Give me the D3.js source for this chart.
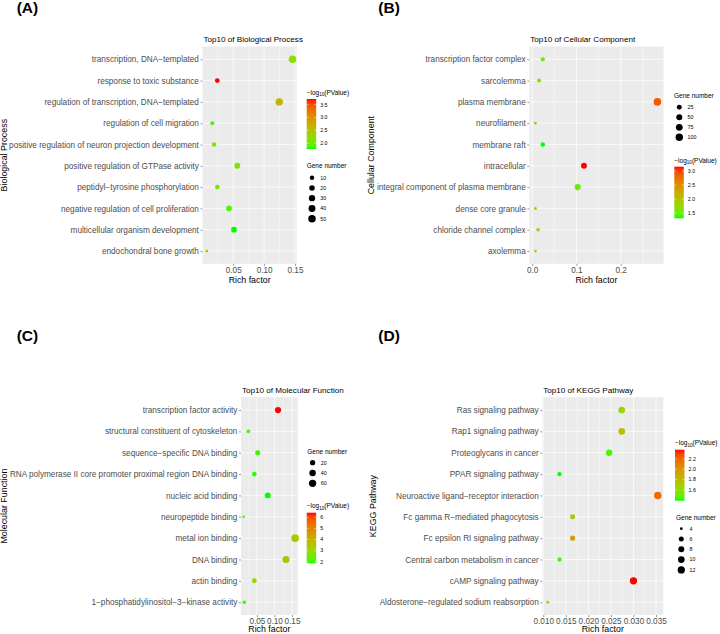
<!DOCTYPE html>
<html><head><meta charset="utf-8">
<script src="https://cdn.jsdelivr.net/npm/d3@7"></script>
<style>html,body{margin:0;padding:0;background:#fff;} svg{display:block;}</style>
</head><body>
<svg id="chart" width="720" height="634"></svg>
<script>
// ---------------- DATA ----------------
// (A) Biological Process
const bpTerms = ["transcription, DNA\u2212templated","response to toxic substance","regulation of transcription, DNA\u2212templated","regulation of cell migration","positive regulation of neuron projection development","positive regulation of GTPase activity","peptidyl\u2212tyrosine phosphorylation","negative regulation of cell proliferation","multicellular organism development","endochondral bone growth"];
const bpRich = [0.146, 0.0242, 0.1245, 0.0161, 0.0189, 0.0566, 0.0242, 0.0432, 0.0512, 0.0072];
const bpCount = [52, 12, 48, 7, 10, 25, 11, 21, 23, 4];
const bpLogP = [2.17, 3.72, 2.65, 1.88, 2.07, 2.10, 2.05, 1.88, 1.78, 2.55];
const bpXTicks = [0.05, 0.10, 0.15];
const bpXTickLabels = ["0.05", "0.10", "0.15"];
const bpColorBreaks = [2.0, 2.5, 3.0, 3.5];
const bpColorLabels = ["2.0", "2.5", "3.0", "3.5"];
const bpSizeBreaks = [10, 20, 30, 40, 50];

// (B) Cellular Component
const ccTerms = ["transcription factor complex","sarcolemma","plasma membrane","neurofilament","membrane raft","intracellular","integral component of plasma membrane","dense core granule","chloride channel complex","axolemma"];
const ccRich = [0.0239, 0.0155, 0.283, 0.0072, 0.0239, 0.117, 0.1027, 0.0072, 0.0133, 0.0072];
const ccCount = [13, 10, 106, 4, 17, 48, 57, 4, 7, 4];
const ccLogP = [1.54, 1.69, 2.88, 2.05, 1.32, 3.15, 1.50, 2.05, 1.87, 1.90];
const ccXTicks = [0.0, 0.1, 0.2];
const ccXTickLabels = ["0.0", "0.1", "0.2"];
const ccColorBreaks = [1.5, 2.0, 2.5, 3.0];
const ccColorLabels = ["1.5", "2.0", "2.5", "3.0"];
const ccSizeBreaks = [25, 50, 75, 100];

// (C) Molecular Function
const mfTerms = ["transcription factor activity","structural constituent of cytoskeleton","sequence\u2212specific DNA binding","RNA polymerase II core promoter proximal region DNA binding","nucleic acid binding","neuropeptide binding","metal ion binding","DNA binding","actin binding","1\u2212phosphatidylinositol\u22123\u2212kinase activity"];
const mfRich = [0.1102, 0.0255, 0.0523, 0.0426, 0.0808, 0.012, 0.159, 0.133, 0.0426, 0.014];
const mfCount = [36, 7, 18, 14, 30, 3, 66, 54, 16, 5];
const mfLogP = [6.41, 2.2, 2.0, 1.95, 1.86, 2.2, 3.45, 3.6, 3.0, 2.0];
const mfXTicks = [0.05, 0.10, 0.15];
const mfXTickLabels = ["0.05", "0.10", "0.15"];
const mfColorBreaks = [2, 3, 4, 5, 6];
const mfColorLabels = ["2", "3", "4", "5", "6"];
const mfSizeBreaks = [20, 40, 60];

// (D) KEGG Pathway
const kgTerms = ["Ras signaling pathway","Rap1 signaling pathway","Proteoglycans in cancer","PPAR signaling pathway","Neuroactive ligand\u2212receptor interaction","Fc gamma R\u2212mediated phagocytosis","Fc epsilon RI signaling pathway","Central carbon metabolism in cancer","cAMP signaling pathway","Aldosterone\u2212regulated sodium reabsorption"];
const kgRich = [0.0274, 0.0274, 0.0246, 0.0136, 0.0354, 0.0165, 0.0165, 0.0136, 0.0300, 0.0110];
const kgCount = [10, 10, 9, 5, 13, 6, 6, 5, 12, 4];
const kgLogP = [1.64, 1.79, 1.44, 1.39, 2.18, 1.74, 1.98, 1.45, 2.38, 1.69];
const kgXTicks = [0.010, 0.015, 0.020, 0.025, 0.030, 0.035];
const kgXTickLabels = ["0.010", "0.015", "0.020", "0.025", "0.030", "0.035"];
const kgColorBreaks = [1.6, 1.8, 2.0, 2.2];
const kgColorLabels = ["1.6", "1.8", "2.0", "2.2"];
const kgSizeBreaks = [4, 6, 8, 10, 12];

// ---------------- DRAWING ----------------
const svg = d3.select("#chart");
const FONT = "'Liberation Sans', Arial, Helvetica, sans-serif";
const colorInterp = d3.interpolateLab("#00FF00", "#FF0000");
const defs = svg.append("defs");
let gradId = 0;

function drawPanel(cfg) {
  const lay = cfg.lay;
  const g = svg.append("g");
  const [xmin, xmax] = d3.extent(cfg.rich);
  const xr = xmax - xmin;
  const x = d3.scaleLinear().domain([xmin - 0.05 * xr, xmax + 0.05 * xr]).range([lay.l, lay.r]);
  const y = d3.scalePoint().domain(cfg.terms).range([lay.t, lay.b]).padding(0.6);
  const cExt = d3.extent(cfg.logp);
  const cNorm = d3.scaleLinear().domain(cExt).range([0, 1]);
  const color = v => colorInterp(cNorm(v));
  const sNorm = d3.scaleLinear().domain(d3.extent(cfg.count)).range([0, 1]).clamp(true);
  const sizeMap = d3.scaleLinear().domain([0, 1]).range([1, 6]);
  const radius = v => 0.48 * sizeMap(Math.sqrt(sNorm(v))) + 0.9;

  // panel background
  g.append("rect").attr("x", lay.l).attr("y", lay.t)
    .attr("width", lay.r - lay.l).attr("height", lay.b - lay.t).attr("fill", "#EBEBEB");

  // minor grid
  const tk = cfg.xTicks;
  const step = tk[1] - tk[0];
  const minors = [tk[0] - step / 2];
  for (let i = 0; i < tk.length; i++) minors.push(tk[i] + step / 2);
  const dom = x.domain();
  g.selectAll(".minor").data(minors.filter(v => v > dom[0] && v < dom[1])).join("line")
    .attr("x1", d => x(d)).attr("x2", d => x(d)).attr("y1", lay.t).attr("y2", lay.b)
    .attr("stroke", "#fff").attr("stroke-width", 0.35);
  // major grid
  g.selectAll(".majx").data(tk.filter(v => v >= dom[0] && v <= dom[1])).join("line")
    .attr("x1", d => x(d)).attr("x2", d => x(d)).attr("y1", lay.t).attr("y2", lay.b)
    .attr("stroke", "#fff").attr("stroke-width", 0.7);
  g.selectAll(".majy").data(cfg.terms).join("line")
    .attr("x1", lay.l).attr("x2", lay.r).attr("y1", d => y(d)).attr("y2", d => y(d))
    .attr("stroke", "#fff").attr("stroke-width", 0.7);

  // points
  const pts = cfg.terms.map((t, i) => ({ t, r: cfg.rich[i], c: cfg.count[i], p: cfg.logp[i] }));
  g.selectAll(".pt").data(pts).join("circle")
    .attr("cx", d => x(d.r)).attr("cy", d => y(d.t)).attr("r", d => radius(d.c))
    .attr("fill", d => color(d.p));

  // axes
  const ax = g.append("g").attr("transform", `translate(0,${lay.b})`)
    .call(d3.axisBottom(x).tickValues(tk).tickFormat((d, i) => cfg.xTickLabels[i]).tickSize(2).tickPadding(0.9));
  const ay = g.append("g").attr("transform", `translate(${lay.l},0)`)
    .call(d3.axisLeft(y).tickSize(2).tickPadding(1.6));
  [ax, ay].forEach(a => {
    a.select(".domain").remove();
    a.selectAll("line").attr("stroke", "#333").attr("stroke-width", 0.5);
    a.selectAll("text").attr("fill", "#4D4D4D").attr("font-family", FONT).attr("font-size", 8.2);
  });

  // titles
  g.append("text").attr("x", lay.l + 1).attr("y", lay.t - 4.6).text(cfg.title)
    .attr("font-family", FONT).attr("font-size", 8.1).attr("fill", "#000");
  g.append("text").attr("x", (lay.l + lay.r) / 2).attr("y", Math.min(lay.b + 19.3, 632.3)).attr("text-anchor", "middle")
    .text("Rich factor").attr("font-family", FONT).attr("font-size", 8.8).attr("fill", "#000");
  g.append("text").attr("transform", `translate(${lay.yTitleX},${(lay.t + lay.b) / 2}) rotate(-90)`)
    .attr("text-anchor", "middle").text(cfg.yTitle)
    .attr("font-family", FONT).attr("font-size", 8.9).attr("fill", "#000");
  g.append("text").attr("x", lay.tagX).attr("y", lay.tagY).text(cfg.tag)
    .attr("font-family", FONT).attr("font-size", 15.5).attr("font-weight", "bold").attr("fill", "#000");

  // legends
  lay.legends.forEach(L => {
    if (L.type === "colour") {
      const t = g.append("text").attr("x", L.x0).attr("y", L.titleY)
        .attr("font-family", FONT).attr("font-size", 6.5).attr("fill", "#000");
      t.append("tspan").text("\u2212log");
      t.append("tspan").text("10").attr("font-size", 4.6).attr("dy", 1.6);
      t.append("tspan").text("(PValue)").attr("dy", -1.6);
      const id = "grad" + (gradId++);
      const gr = defs.append("linearGradient").attr("id", id)
        .attr("x1", 0).attr("y1", 1).attr("x2", 0).attr("y2", 0);
      d3.range(0, 1.0001, 0.05).forEach(s => gr.append("stop").attr("offset", s).attr("stop-color", colorInterp(s)));
      const bw = 9.5;
      g.append("rect").attr("x", L.x0).attr("y", L.barTop).attr("width", bw)
        .attr("height", L.barBot - L.barTop).attr("fill", `url(#${id})`);
      const ls = d3.scaleLinear().domain(cExt).range([L.barBot, L.barTop]);
      cfg.colorBreaks.forEach((v, i) => {
        g.append("line").attr("x1", L.x0).attr("x2", L.x0 + 1.9).attr("y1", ls(v)).attr("y2", ls(v))
          .attr("stroke", "#fff").attr("stroke-width", 0.5);
        g.append("line").attr("x1", L.x0 + bw - 1.9).attr("x2", L.x0 + bw).attr("y1", ls(v)).attr("y2", ls(v))
          .attr("stroke", "#fff").attr("stroke-width", 0.5);
        g.append("text").attr("x", L.x0 + 13.5).attr("y", ls(v)).attr("dy", "0.35em").text(cfg.colorLabels[i])
          .attr("font-family", FONT).attr("font-size", 5.3).attr("fill", "#000");
      });
    } else {
      g.append("text").attr("x", L.x0).attr("y", L.titleY).text("Gene number")
        .attr("font-family", FONT).attr("font-size", 6.5).attr("fill", "#000");
      cfg.sizeBreaks.forEach((v, i) => {
        const cy = L.firstY + i * L.step;
        g.append("circle").attr("cx", L.x0 + 5.3).attr("cy", cy).attr("r", radius(v)).attr("fill", "#000");
        g.append("text").attr("x", L.x0 + 13.5).attr("y", cy).attr("dy", "0.35em").text(v)
          .attr("font-family", FONT).attr("font-size", 5.3).attr("fill", "#000");
      });
    }
  });
}

drawPanel({
  terms: bpTerms, rich: bpRich, count: bpCount, logp: bpLogP,
  xTicks: bpXTicks, xTickLabels: bpXTickLabels, colorBreaks: bpColorBreaks, colorLabels: bpColorLabels,
  sizeBreaks: bpSizeBreaks, title: "Top10 of Biological Process", yTitle: "Biological Process", tag: "(A)",
  lay: { l: 202.5, r: 296.8, t: 46.5, b: 263.8, yTitleX: 7.0, tagX: 16.7, tagY: 12.7,
    legends: [
      { type: "colour", x0: 306.7, titleY: 94.5, barTop: 99, barBot: 149 },
      { type: "size", x0: 306.7, titleY: 168.3, firstY: 177.7, step: 10.25 }
    ] }
});
drawPanel({
  terms: ccTerms, rich: ccRich, count: ccCount, logp: ccLogP,
  xTicks: ccXTicks, xTickLabels: ccXTickLabels, colorBreaks: ccColorBreaks, colorLabels: ccColorLabels,
  sizeBreaks: ccSizeBreaks, title: "Top10 of Cellular Component", yTitle: "Cellular Component", tag: "(B)",
  lay: { l: 529.3, r: 663.5, t: 46.5, b: 263.8, yTitleX: 373.8, tagX: 378.3, tagY: 12.7,
    legends: [
      { type: "size", x0: 674, titleY: 97.5, firstY: 107.3, step: 10 },
      { type: "colour", x0: 674.3, titleY: 162.5, barTop: 166.7, barBot: 218.3 }
    ] }
});
drawPanel({
  terms: mfTerms, rich: mfRich, count: mfCount, logp: mfLogP,
  xTicks: mfXTicks, xTickLabels: mfXTickLabels, colorBreaks: mfColorBreaks, colorLabels: mfColorLabels,
  sizeBreaks: mfSizeBreaks, title: "Top10 of Molecular Function", yTitle: "Molecular Function", tag: "(C)",
  lay: { l: 241, r: 297.7, t: 397.2, b: 615, yTitleX: 7.3, tagX: 16.7, tagY: 341,
    legends: [
      { type: "size", x0: 307.3, titleY: 453.5, firstY: 462.7, step: 10.3 },
      { type: "colour", x0: 306.7, titleY: 508.2, barTop: 512.7, barBot: 563.3 }
    ] }
});
drawPanel({
  terms: kgTerms, rich: kgRich, count: kgCount, logp: kgLogP,
  xTicks: kgXTicks, xTickLabels: kgXTickLabels, colorBreaks: kgColorBreaks, colorLabels: kgColorLabels,
  sizeBreaks: kgSizeBreaks, title: "Top10 of KEGG Pathway", yTitle: "KEGG Pathway", tag: "(D)",
  lay: { l: 542.3, r: 663.3, t: 397.2, b: 615, yTitleX: 375.7, tagX: 378.3, tagY: 341,
    legends: [
      { type: "colour", x0: 675, titleY: 445, barTop: 449.7, barBot: 500.7 },
      { type: "size", x0: 676, titleY: 519.5, firstY: 528.7, step: 10.3 }
    ] }
});
</script>
</body></html>
